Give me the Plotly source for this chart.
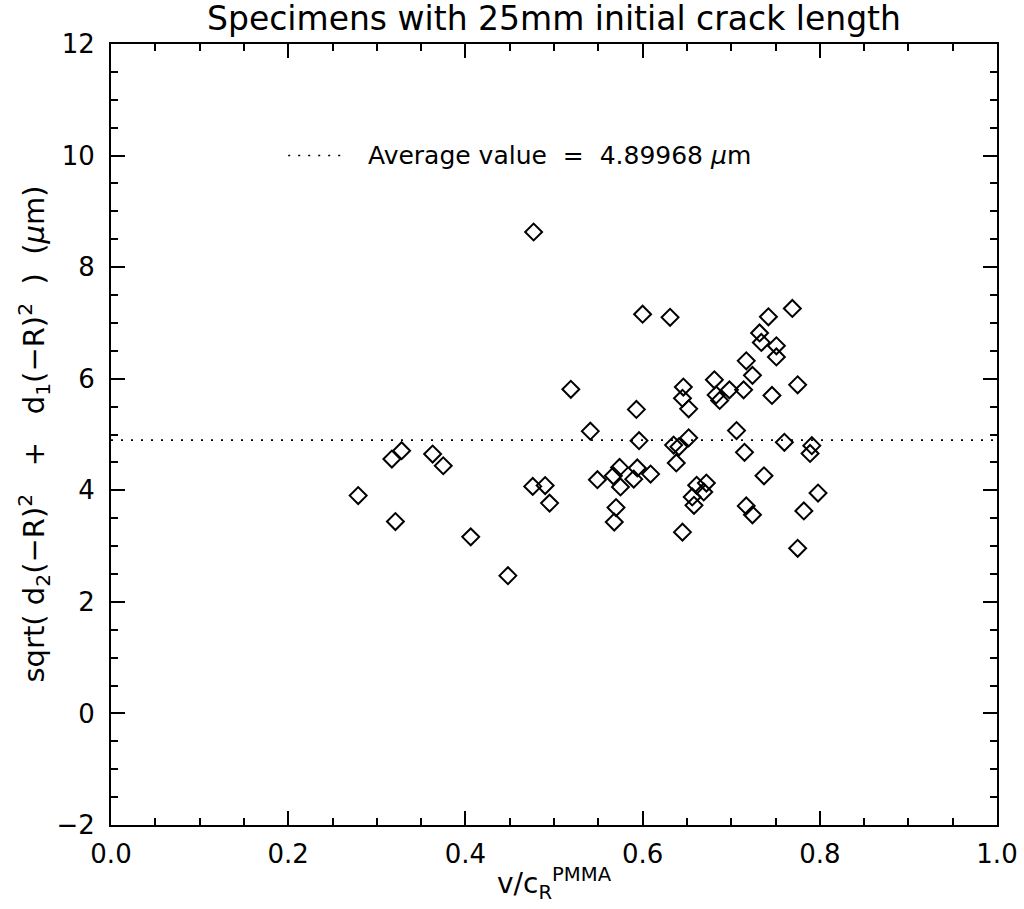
import plotly.graph_objects as go

# ---- data ----
v_over_cr = [
    0.279, 0.321, 0.317, 0.328, 0.363, 0.375, 0.406, 0.448, 0.477, 0.476, 0.490, 0.495,
    0.600, 0.631, 0.519, 0.593, 0.541, 0.596, 0.646, 0.645, 0.652, 0.635, 0.641, 0.638,
    0.652, 0.549, 0.574, 0.567, 0.575, 0.594, 0.590, 0.609, 0.570, 0.568, 0.645,
    0.661, 0.669, 0.672, 0.656, 0.658,
    0.769, 0.742, 0.732, 0.734, 0.751, 0.751, 0.717, 0.724, 0.681, 0.775, 0.714, 0.698,
    0.683, 0.687, 0.746,
    0.706, 0.715, 0.760, 0.791, 0.789, 0.737, 0.798, 0.782, 0.775, 0.717, 0.724,
]
deviation_um = [
    3.905, 3.44, 4.56, 4.71, 4.65, 4.44, 3.165, 2.47, 8.63, 4.07, 4.085, 3.77,
    7.156, 7.10, 5.81, 5.45, 5.06, 4.89, 5.85, 5.65, 5.46, 4.81, 4.78, 4.49,
    4.94, 4.19, 4.41, 4.26, 4.06, 4.40, 4.20, 4.29, 3.69, 3.43, 3.25,
    4.09, 3.97, 4.13, 3.88, 3.73,
    7.26, 7.11, 6.82, 6.65, 6.59, 6.39, 6.32, 6.06, 5.98, 5.89, 5.80, 5.80,
    5.71, 5.61, 5.70,
    5.07, 4.68, 4.86, 4.80, 4.66, 4.26, 3.95, 3.63, 2.96, 3.72, 3.56,
]
average_value = 4.89968
x_tick_vals = [0.0, 0.2, 0.4, 0.6, 0.8, 1.0]
x_tick_text = ["0.0", "0.2", "0.4", "0.6", "0.8", "1.0"]
y_tick_vals = [-2, 0, 2, 4, 6, 8, 10, 12]
y_tick_text = ["\u22122", "0", "2", "4", "6", "8", "10", "12"]

FONT = "DejaVu Sans"
fig = go.Figure()

# average dotted line across full x range
fig.add_trace(go.Scatter(
    x=[0, 1], y=[average_value, average_value], mode="lines",
    line=dict(color="black", width=1.6, dash="2px,8px"),
    hoverinfo="skip", showlegend=False))

# legend sample line
fig.add_trace(go.Scatter(
    x=[0.2, 0.265], y=[10, 10], mode="lines",
    line=dict(color="black", width=1.6, dash="2px,8px"),
    hoverinfo="skip", showlegend=False))

fig.add_trace(go.Scatter(
    x=v_over_cr, y=deviation_um, mode="markers",
    marker=dict(symbol="diamond-open", size=13, color="black",
                line=dict(color="black", width=2)),
    showlegend=False))

axis_common = dict(
    showgrid=False, zeroline=False, showline=True, linecolor="black",
    linewidth=2, mirror="allticks", ticks="inside", tickcolor="black",
    tickwidth=1.5, ticklen=14,
    tickfont=dict(family=FONT, size=26, color="black"),
)

fig.update_xaxes(
    range=[0, 1], tickvals=x_tick_vals, ticktext=x_tick_text,
    minor=dict(dtick=0.05, ticks="inside", ticklen=7, tickcolor="black", tickwidth=1.5),
    ticklabelstandoff=5,
    **axis_common)
fig.update_yaxes(
    range=[-2, 12], tickvals=y_tick_vals, ticktext=y_tick_text,
    minor=dict(dtick=0.5, ticks="inside", ticklen=7, tickcolor="black", tickwidth=1.5),
    ticklabelstandoff=9,
    **axis_common)

fig.add_annotation(
    text="Specimens with 25mm initial crack length",
    xref="paper", yref="paper", x=0.5, y=1.033, xanchor="center", yanchor="middle",
    showarrow=False, font=dict(family=FONT, size=33, color="black"))

fig.add_annotation(
    text="Average value  =  4.89968 <i>\u03bc</i>m",
    xref="x", yref="y", x=0.288, y=10, xanchor="left", yanchor="middle",
    showarrow=False, font=dict(family=FONT, size=25, color="black"))

fig.add_annotation(
    text="v/c<sub>R</sub><sup>PMMA</sup>",
    xref="paper", yref="paper", x=0.5, y=-0.075, xanchor="center", yanchor="middle",
    showarrow=False, font=dict(family=FONT, size=28, color="black"))

fig.add_annotation(
    text="sqrt( d<sub>2</sub>(\u2212R)<sup>2</sup>   +   d<sub>1</sub>(\u2212R)<sup>2</sup>  )  (<i>\u03bc</i>m)",
    xref="paper", yref="paper", x=-0.088, y=0.5, xanchor="center", yanchor="middle",
    textangle=-90, showarrow=False, font=dict(family=FONT, size=29, color="black"))

fig.update_layout(
    width=1024, height=909,
    margin=dict(l=111, r=27, t=44, b=84, autoexpand=False),
    paper_bgcolor="white", plot_bgcolor="white",
)

fig.write_html("out.html")
